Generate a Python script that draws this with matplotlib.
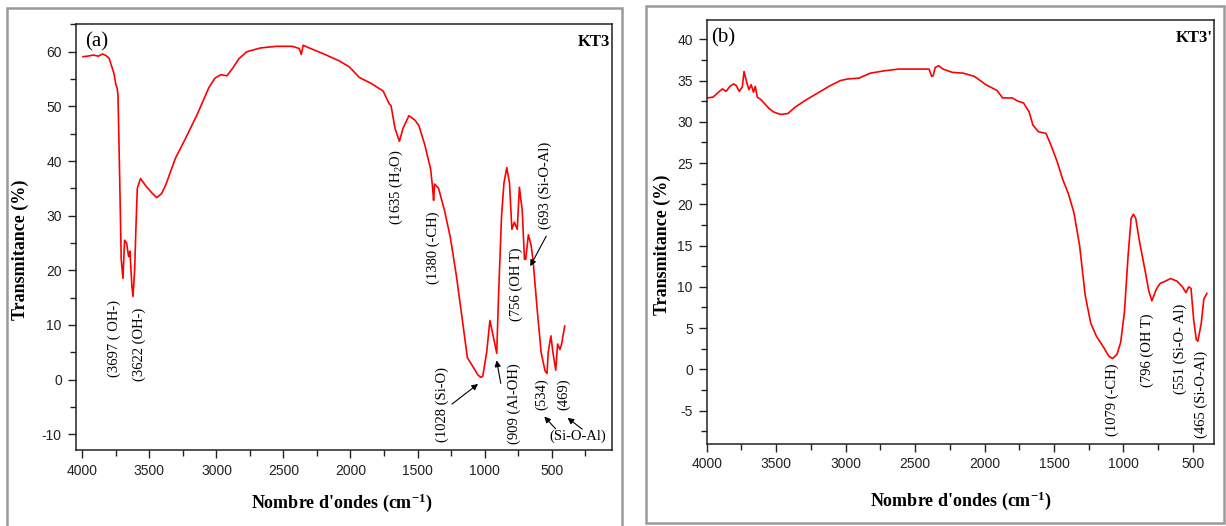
import matplotlib
matplotlib.use("Agg")
import matplotlib.pyplot as plt
from matplotlib.patches import Rectangle
from matplotlib.ticker import MultipleLocator

plt.rcParams['mathtext.fontset'] = 'custom'
plt.rcParams['mathtext.rm'] = 'Liberation Serif'
plt.rcParams['mathtext.it'] = 'Liberation Serif:italic'
plt.rcParams['mathtext.bf'] = 'Liberation Serif:bold'
plt.rcParams['axes.unicode_minus'] = False

# ---- data ----
# (a) KT3
wn_a = [3995, 3960, 3920, 3880, 3850, 3823, 3800, 3764, 3750, 3740, 3734, 3720, 3710,
        3697, 3685, 3670, 3655, 3645, 3630, 3622, 3610, 3600, 3590, 3566, 3528, 3483,
        3445, 3410, 3380, 3306, 3233, 3144, 3055, 3010, 2966, 2922, 2878, 2833, 2774,
        2671, 2553, 2435, 2382, 2367, 2353, 2317, 2199, 2081, 2007, 1934, 1845, 1800,
        1756, 1712, 1697, 1668, 1635, 1608, 1564, 1520, 1490, 1446, 1402, 1387, 1380,
        1373, 1343, 1299, 1255, 1210, 1166, 1128, 1093, 1048, 1028, 1013, 984, 960,
        940, 909, 896, 873, 855, 834, 814, 796, 778, 756, 740, 719, 702, 693, 673,
        652, 637, 608, 578, 549, 534, 525, 505, 490, 469, 455, 437, 425, 402]
tr_a = [59.1, 59.2, 59.4, 59.2, 59.6, 59.3, 58.8, 56.0, 54.0, 53.3, 52.0, 35.0, 22.0,
        18.5, 25.5, 25.0, 22.5, 23.5, 17.0, 15.2, 20.0, 28.0, 35.0, 36.8, 35.5, 34.2,
        33.3, 34.0, 35.5, 40.5, 44.0, 48.5, 53.5, 55.2, 55.8, 55.6, 57.0, 58.7, 60.0,
        60.7, 61.0, 61.0, 60.6, 59.5, 61.2, 60.8, 59.6, 58.3, 57.2, 55.3, 54.2, 53.5,
        52.8, 50.5, 50.1, 46.0, 43.6, 46.0, 48.3, 47.5, 46.5, 43.0, 38.5, 35.0, 32.8,
        35.8, 35.0, 31.0, 26.0, 19.0, 11.0, 4.0, 2.6, 0.8, 0.4, 0.6, 5.0, 10.8,
        8.5, 4.8, 15.0, 30.0, 36.0, 38.8, 36.0, 27.5, 28.8, 27.5, 35.2, 31.0, 22.0, 22.0, 26.5,
        24.5, 21.5, 13.0, 5.0, 1.6, 1.1, 5.0, 8.0, 5.0, 1.7, 6.5, 5.5, 6.5, 9.8]

# (b) KT3'
wn_b = [3995, 3954, 3914, 3887, 3860, 3833, 3806, 3787, 3766, 3744, 3731, 3712, 3696,
        3680, 3663, 3650, 3636, 3610, 3577, 3550, 3518, 3470, 3416, 3362, 3281, 3200,
        3120, 3039, 2985, 2904, 2823, 2716, 2616, 2505, 2400, 2380, 2370, 2355, 2330,
        2300, 2232, 2152, 2072, 1990, 1910, 1870, 1800, 1760, 1720, 1679, 1652, 1612,
        1558, 1518, 1478, 1437, 1397, 1357, 1316, 1276, 1236, 1195, 1141, 1106, 1079,
        1047, 1020, 993, 966, 945, 929, 912, 885, 845, 818, 796, 764, 737, 697, 662,
        616, 576, 551, 530, 514, 495, 476, 465, 441, 422, 400]
tr_b = [32.9, 33.0, 33.6, 34.0, 33.7, 34.3, 34.6, 34.4, 33.7, 34.2, 36.1, 34.8, 33.9,
        34.5, 33.6, 34.3, 33.0, 32.7, 32.1, 31.6, 31.2, 30.9, 31.0, 31.8, 32.7, 33.5,
        34.3, 35.0, 35.2, 35.3, 35.9, 36.2, 36.4, 36.4, 36.4, 35.5, 35.6, 36.6, 36.8,
        36.4, 36.0, 35.9, 35.5, 34.5, 33.8, 32.9, 32.9, 32.5, 32.3, 31.2, 29.6, 28.8,
        28.6, 27.0, 25.2, 23.0, 21.3, 19.0, 15.0, 9.0, 5.6, 4.0, 2.6, 1.6, 1.3,
        1.8, 3.3, 7.0, 14.0, 18.3, 18.8, 18.3, 15.5, 12.0, 9.5, 8.3, 9.7, 10.4, 10.7, 11.0,
        10.7, 10.0, 9.3, 10.0, 9.8, 6.0, 3.6, 3.4, 5.5, 8.5, 9.2]

# band labels: (text, x, y)
labels_a = [("(3697 ( OH-)", 3764, 7.5), ("(3622 (OH-)", 3572, 6.5),
            ("(1635 (H$_2$O)", 1658, 35.3), ("(1380 (-CH)", 1386, 24.1),
            ("(1028 (Si-O)", 1318, -4.5), ("(909 (Al-OH)", 775, -4.4),
            ("(756 (OH T)", 766, 17.4), ("(693 (Si-O-Al)", 545, 35.5),
            ("(534)", 574, -2.7), ("(469)", 412, -2.7)]
labels_b = [("(1079 (-CH)", 1079, -3.7), ("(796 (OH T)", 826, 2.3),
            ("(551 (Si-O- Al)", 588, 2.5), ("(465 (Si-O-Al)", 440, -3.0)]
# arrows: (tail, head)
arrows_a = [((1259, -4.8), (1032, -0.5)), ((875, -1.2), (914, 4.0)),
            ((530, 26.7), (669, 20.3)), ((456, -9.4), (568, -6.4)),
            ((255, -9.4), (397, -6.7))]

serif = 'Liberation Serif'
sans = 'Liberation Sans'

fig = plt.figure(figsize=(12.26, 5.26), dpi=100)

# grey panel frames
fig.patches.append(Rectangle((0.0057, -0.05), 0.5016, 1.035, transform=fig.transFigure,
                             fill=False, ec='#9a9a9a', lw=1.8))
fig.patches.append(Rectangle((0.5269, 0.0057), 0.4715, 0.9829, transform=fig.transFigure,
                             fill=False, ec='#9a9a9a', lw=1.8))

ax1 = fig.add_axes([0.0617, 0.1445, 0.4374, 0.809])
ax2 = fig.add_axes([0.5764, 0.1568, 0.414, 0.806])


def style(ax, xlim, ylim, ymaj, ymin):
    ax.set_xlim(*xlim)
    ax.set_ylim(*ylim)
    ax.xaxis.set_major_locator(MultipleLocator(500))
    ax.xaxis.set_minor_locator(MultipleLocator(250))
    ax.yaxis.set_major_locator(MultipleLocator(ymaj))
    ax.yaxis.set_minor_locator(MultipleLocator(ymin))
    ax.tick_params(which='both', direction='out', top=False, right=False,
                   width=1.0, colors='#222222', labelsize=10, pad=4)
    ax.tick_params(which='major', length=6)
    ax.tick_params(which='minor', length=4)
    for lab in ax.get_xticklabels() + ax.get_yticklabels():
        lab.set_family(sans)
    for sp in ax.spines.values():
        sp.set_linewidth(1.1)
        sp.set_color('#222222')


ax1.plot(wn_a, tr_a, color='#ff0000', lw=1.2)
style(ax1, (4050, 50), (-12.9, 65), 10, 5)
ax2.plot(wn_b, tr_b, color='#ff0000', lw=1.2)
style(ax2, (4000, 347), (-9, 42.4), 5, 2.5)

for txt, x, y in labels_a:
    ax1.text(x, y, txt, rotation=90, ha='center', va='center', family=serif, fontsize=10.5)
ax1.text(302, -10.4, "(Si-O-Al)", ha='center', va='center', family=serif, fontsize=10.5)
for tail, head in arrows_a:
    ax1.annotate("", xy=head, xytext=tail,
                 arrowprops=dict(arrowstyle='-|>', color='k', lw=0.8, mutation_scale=9))
for txt, x, y in labels_b:
    ax2.text(x, y, txt, rotation=90, ha='center', va='center', family=serif, fontsize=10.5)

ax1.text(0.039, 0.96, "(a)", transform=ax1.transAxes, ha='center', va='center',
         family=serif, fontsize=15)
ax1.text(0.996, 0.959, "KT3", transform=ax1.transAxes, ha='right', va='center',
         family=serif, fontsize=12, fontweight='bold')
ax2.text(0.032, 0.957, "(b)", transform=ax2.transAxes, ha='center', va='center',
         family=serif, fontsize=15)
ax2.text(0.997, 0.956, "KT3'", transform=ax2.transAxes, ha='right', va='center',
         family=serif, fontsize=12, fontweight='bold')

xlab = r"Nombre d'ondes (cm$^{\mathbf{-1}}$)"
ylab = "Transmitance (%)"
ax1.text(0.4966, -0.1246, xlab, transform=ax1.transAxes, ha='center', va='center',
         family=serif, fontsize=13, fontweight='bold')
ax1.text(-0.1039, 0.47, ylab, transform=ax1.transAxes, ha='center', va='center',
         rotation=90, family=serif, fontsize=13, fontweight='bold')
ax2.text(0.501, -0.1356, xlab, transform=ax2.transAxes, ha='center', va='center',
         family=serif, fontsize=13, fontweight='bold')
ax2.text(-0.088, 0.468, ylab, transform=ax2.transAxes, ha='center', va='center',
         rotation=90, family=serif, fontsize=13, fontweight='bold')

fig.savefig('out.png', dpi=100)
